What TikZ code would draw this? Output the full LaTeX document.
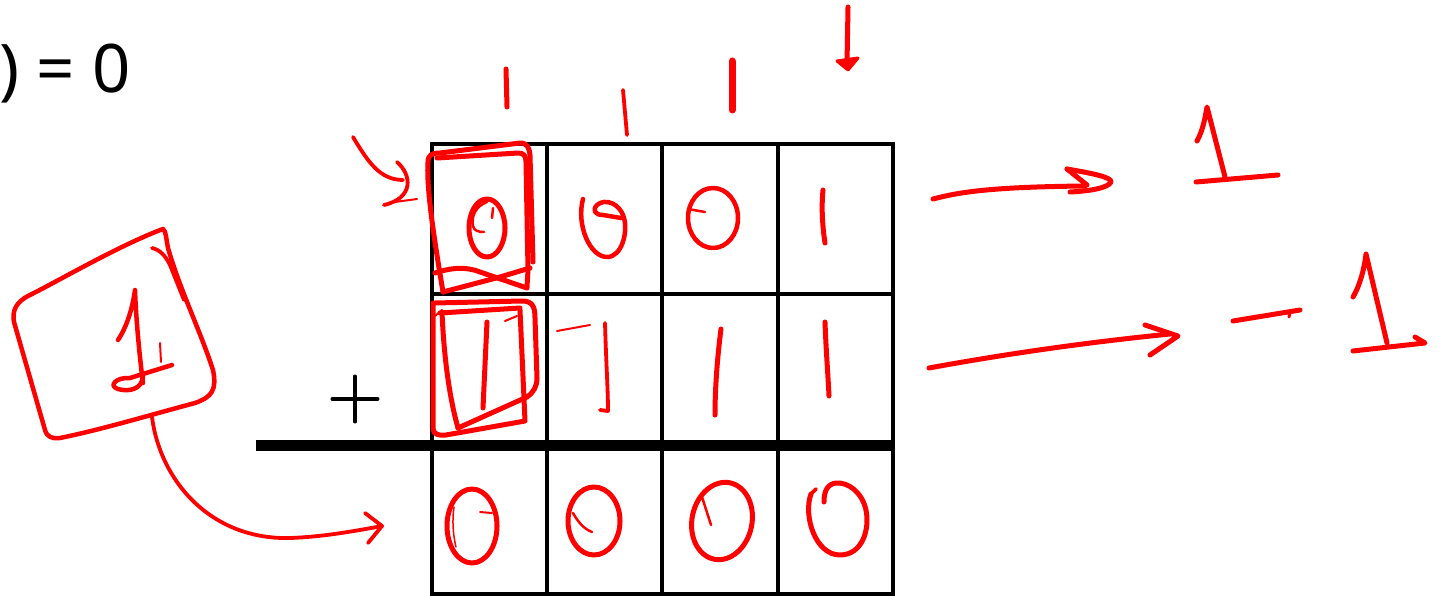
\documentclass[tikz,border=0pt]{standalone}
\usepackage{fontspec}
\newfontfamily\eqfont{Noto Sans}
\newfontfamily\plusfont{lmroman10-regular}[Extension=.otf,FakeBold=1.5]
\begin{document}
\begin{tikzpicture}[x=1pt,y=-1pt,
  gridline/.style={black,line width=3.5pt},
  ink/.style={red,line width=5pt,line cap=round,line join=round},
  midink/.style={red,line width=3.8pt,line cap=round,line join=round},
  thinink/.style={red,line width=2pt,line cap=round,line join=round}]
\useasboundingbox (0,0) rectangle (1439,596);
% text
\node[anchor=base east,inner sep=0pt,font=\eqfont\fontsize{67}{67}\selectfont] (eq) at (131,93) {) = 0};
\node[inner sep=0pt,font=\plusfont\fontsize{72}{72}\selectfont] (plus) at (355,399) {+};
% grid
\draw[gridline] (432,144) rectangle (893,594);
\foreach \x in {547,662,778} \draw[gridline] (\x,144) -- (\x,594);
\draw[gridline] (432,294) -- (893,294);
\coordinate (barL) at (256,445.5);
\coordinate (barR) at (895,445.5);
\draw[black,line width=11pt] (barL) -- (barR);
% top ticks
\draw[ink] (506,69) -- (507,107);
\draw[midink] (623,90) -- (627,135);
\draw[ink,line width=7pt] (732,61) -- (732,110);
\coordinate (dA) at (848,7);
\coordinate (dB) at (847,64);
\draw[ink] (dA) -- (dB);
\filldraw[ink,line width=3pt] (837,61) -- (858,58) -- (848,70) -- cycle;
% small arrow to cell 1
\coordinate (sA) at (353,137);
\coordinate (sB) at (403,180);
\draw[midink] (sA) .. controls (368,162) and (380,180) .. (sB);
\draw[midink] (397,162) .. controls (412,175) and (414,198) .. (384,205);
\draw[thinink] (395,202) -- (417,199);
% square around cell (1,1)
\draw[ink] (443,292) .. controls (436,250) and (426,190) .. (428,162) .. controls (428,155) and (432,153) .. (440,153) -- (520,143) .. controls (527,143) and (529,147) .. (530,155) -- (533,262);
\draw[ink] (437,158) -- (518,153) .. controls (524,153) and (526,156) .. (526,162) -- (528,270) -- (527,287);
\draw[ink] (435,273) .. controls (450,268) and (465,266) .. (480,272) -- (527,288);
\draw[ink] (443,292) -- (500,277) -- (530,268);
% digits row 1
\draw[ink] (487,228) ellipse [x radius=18pt,y radius=29pt];
\draw[thinink,line width=2.5pt] (487,202) .. controls (476,206) and (471,216) .. (473,226) .. controls (474,231) and (479,232) .. (484,232);
\draw[thinink,line width=2.5pt] (493,208) -- (492,218);
\draw[ink,line width=4.5pt] (583,199) .. controls (576,225) and (590,257) .. (607,257) .. controls (622,257) and (628,232) .. (624,218) .. controls (620,203) and (605,198) .. (597,205) .. controls (592,210) and (595,215) .. (603,215) -- (621,218);
\draw[ink,line width=4.5pt] (713,218) ellipse [x radius=25pt,y radius=30pt];
\draw[thinink,line width=2.5pt] (688,209) -- (705,212);
\draw[ink] (823,190) .. controls (821,210) and (823,230) .. (825,243);
% square around cell (2,1)
\draw[ink] (435,303) -- (522,301) .. controls (532,301) and (535,306) .. (535,318) -- (537,378) .. controls (537,386) and (534,392) .. (527,397) -- (458,428);
\draw[ink] (433,303) -- (433,428) .. controls (433,434) and (438,436) .. (446,435) -- (525,421) -- (520,310);
\draw[ink] (442,312) .. controls (444,360) and (450,400) .. (458,428);
\draw[ink] (440,313) -- (520,308);
\draw[thinink] (435,316) -- (442,310);
\draw[thinink] (505,321) -- (517,316);
% digits row 2
\draw[ink] (487,322) -- (483,408);
\draw[thinink] (557,331) -- (590,325);
\draw[midink] (605,323) .. controls (606,360) and (608,390) .. (608,411) -- (600,410);
\draw[ink] (721,329) .. controls (717,360) and (715,390) .. (715,415);
\draw[ink] (825,322) .. controls (826,350) and (828,375) .. (829,396);
% digits row 3
\draw[ink] (472,526) ellipse [x radius=25pt,y radius=37pt];
\draw[thinink,line width=1.5pt] (454,507) .. controls (452,520) and (453,535) .. (456,547);
\draw[thinink,line width=2pt] (480,512) -- (492,513);
\draw[ink] (594,521) ellipse [x radius=26pt,y radius=34pt];
\draw[thinink,line width=2.5pt] (573,513) .. controls (578,522) and (584,529) .. (592,532);
\draw[ink] (722,521) [rotate around={-12:(722,521)}] ellipse [x radius=30pt,y radius=39pt];
\draw[thinink,line width=2.5pt] (702,497) -- (711,525);
\draw[ink] (811,494) .. controls (803,515) and (815,555) .. (840,555) .. controls (862,555) and (870,530) .. (866,510) .. controls (862,492) and (848,482) .. (836,483) .. controls (828,484) and (824,490) .. (824,502);
\draw[midink] (811,494) -- (816,489);
% left box with 1
\draw[ink,line width=4.5pt] (163,229) .. controls (120,245) and (60,280) .. (30,295) .. controls (15,302) and (12,312) .. (14,322) -- (45,430) .. controls (47,437) and (52,439) .. (60,438) .. controls (100,430) and (150,415) .. (195,403) .. controls (212,397) and (217,390) .. (213,370) .. controls (200,330) and (180,290) .. (168,248) .. controls (166,238) and (166,231) .. (163,229);
\draw[midink] (152,248) .. controls (160,250) and (165,255) .. (170,265) -- (184,300);
\draw[ink,line width=4.5pt] (118,340) .. controls (128,325) and (133,305) .. (135,290) .. controls (136,320) and (140,360) .. (143,383);
\draw[ink,line width=4.5pt] (143,375) .. controls (143,390) and (128,392) .. (118,389) .. controls (108,386) and (116,377) .. (130,378) -- (172,365);
\draw[thinink] (160,343) -- (161,362);
% curved arrow from box to bottom row
\coordinate (cA) at (152,417);
\coordinate (cB) at (382,526);
\draw[midink] (cA) .. controls (160,480) and (210,540) .. (290,538) .. controls (320,537) and (350,532) .. (cB);
\draw[midink] (365,513) -- (cB) -- (368,543);
% right arrows
\coordinate (r1A) at (933,199);
\coordinate (r1B) at (1085,186);
\draw[ink] (r1A) .. controls (960,192) and (990,187) .. (r1B);
\draw[ink] (1067,169) -- (1087,185);
\draw[ink] (1067,169) .. controls (1090,173) and (1112,177) .. (1111,182) .. controls (1108,188) and (1090,191) .. (1070,192);
\draw[ink] (1197,141) .. controls (1203,130) and (1205,118) .. (1207,107) -- (1225,177);
\draw[ink] (1196,182) -- (1278,175);
\coordinate (r2A) at (929,368);
\coordinate (r2B) at (1170,334);
\draw[ink] (r2A) .. controls (1000,355) and (1080,343) .. (r2B);
\draw[ink] (1145,325) -- (1178,336) -- (1150,355);
\draw[ink] (1233,321) -- (1300,310);
\draw[thinink,line width=3pt] (1290,312) -- (1289,317);
\draw[ink] (1353,297) .. controls (1360,285) and (1364,270) .. (1366,254) -- (1387,343);
\draw[ink] (1353,351) -- (1425,343) -- (1415,337);
\end{tikzpicture}
\end{document}
